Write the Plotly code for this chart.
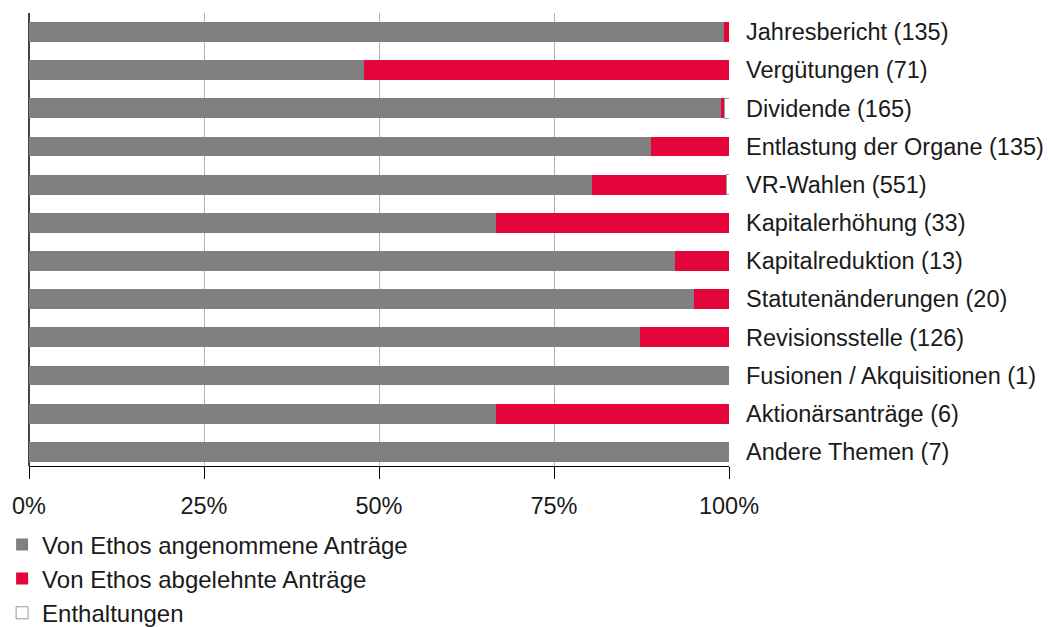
import plotly.graph_objects as go

categories = ["Jahresbericht (135)", "Vergütungen (71)", "Dividende (165)",
              "Entlastung der Organe (135)", "VR-Wahlen (551)", "Kapitalerhöhung (33)",
              "Kapitalreduktion (13)", "Statutenänderungen (20)", "Revisionsstelle (126)",
              "Fusionen / Akquisitionen (1)", "Aktionärsanträge (6)", "Andere Themen (7)"]
accepted = [99.3, 47.9, 98.8, 88.9, 80.4, 66.7, 92.3, 95.0, 87.3, 100.0, 66.7, 100.0]
rejected = [0.7, 52.1, 0.6, 11.1, 19.3, 33.3, 7.7, 5.0, 12.7, 0.0, 33.3, 0.0]
abstained = [0.0, 0.0, 0.6, 0.0, 0.3, 0.0, 0.0, 0.0, 0.0, 0.0, 0.0, 0.0]
series_names = ["Von Ethos angenommene Anträge", "Von Ethos abgelehnte Anträge", "Enthaltungen"]
x_ticks = [0, 25, 50, 75, 100]
x_ticktext = ["0%", "25%", "50%", "75%", "100%"]

FONT = "Liberation Sans, Arial, sans-serif"
TXT = "#1a1a1a"
pos = list(range(len(categories)))

fig = go.Figure()
fig.add_trace(go.Bar(y=pos, x=accepted, orientation="h", name=series_names[0],
                     marker=dict(color="#808080", line=dict(width=0)), width=0.52,
                     legendgroup="a"))
fig.add_trace(go.Bar(y=pos, x=rejected, orientation="h", name=series_names[1],
                     marker=dict(color="#E4053A", line=dict(width=0)), width=0.52,
                     legendgroup="b"))
fig.add_trace(go.Bar(y=pos, x=abstained, orientation="h", name=series_names[2],
                     marker=dict(color="#ffffff", line=dict(width=1, color="#9a9a9a")), width=0.52,
                     legendgroup="c"))

fig.update_layout(
    barmode="stack",
    width=1048, height=627,
    margin=dict(l=29, r=319, t=13, b=161, autoexpand=False),
    paper_bgcolor="white", plot_bgcolor="white",
    font=dict(family=FONT, size=23.5, color=TXT),
    showlegend=True,
    legend=dict(xref="container", yref="container", x=0.002, y=0.167,
                xanchor="left", yanchor="top", orientation="v",
                traceorder="normal", tracegroupgap=4, font=dict(size=24, color=TXT),
                bgcolor="rgba(0,0,0,0)"),
    xaxis=dict(range=[0, 100], tickvals=x_ticks, ticktext=x_ticktext, automargin=False,
               showgrid=True, gridcolor="#b3b3b3", gridwidth=1,
               zeroline=True, zerolinecolor="#444444", zerolinewidth=2,
               showline=True, linecolor="#000000", linewidth=1,
               ticks="outside", ticklen=12, tickcolor="#000000", tickwidth=1,
               ticklabelstandoff=7, tickfont=dict(size=23.5, color=TXT)),
    yaxis=dict(range=[11.37, -0.5], tickvals=pos, ticktext=categories, side="right",
               automargin=False, showgrid=False, zeroline=False, showline=False,
               ticks="", ticklabelstandoff=16, tickfont=dict(size=23.5, color=TXT)),
)

fig.write_html("out.html", config={"displayModeBar": False},
               post_script="document.body.style.margin='0';")
